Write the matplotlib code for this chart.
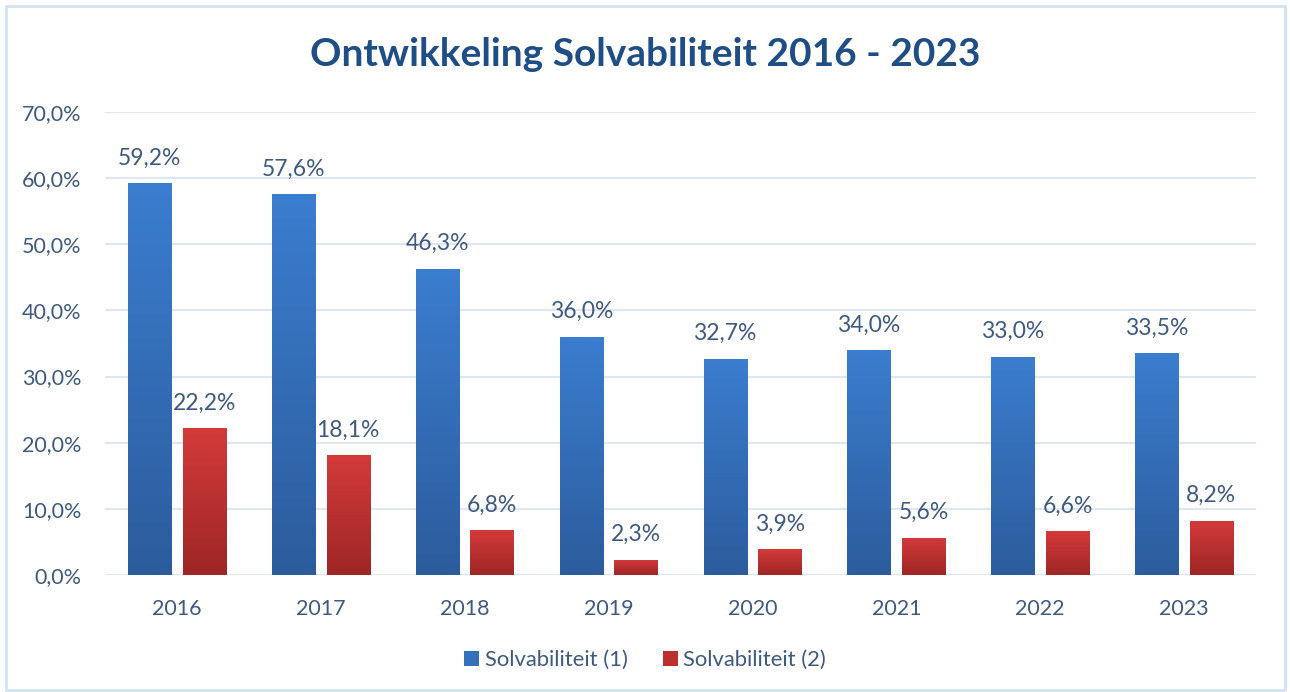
import matplotlib
matplotlib.use("Agg")
import matplotlib.pyplot as plt
import numpy as np
from matplotlib.colors import LinearSegmentedColormap
from matplotlib.patches import Rectangle

years = ["2016", "2017", "2018", "2019", "2020", "2021", "2022", "2023"]
solv1 = [59.2, 57.6, 46.3, 36.0, 32.7, 34.0, 33.0, 33.5]
solv2 = [22.2, 18.1, 6.8, 2.3, 3.9, 5.6, 6.6, 8.2]
yticks = [0, 10, 20, 30, 40, 50, 60, 70]

plt.rcParams['font.family'] = ['Lato', 'DejaVu Sans']
txt = '#3F5A80'

fig = plt.figure(figsize=(12.9, 6.92), dpi=100)
ax = fig.add_axes([105/1290, 1 - 575/692, 1151/1290, 463/692])

x = np.arange(len(years))
w = 0.30
off = 0.19

blue_cmap = LinearSegmentedColormap.from_list('b', ['#2C5C9C', '#3B7DCF'])
red_cmap = LinearSegmentedColormap.from_list('r', ['#9E2626', '#D43A3A'])
grad = np.linspace(0, 1, 256).reshape(-1, 1)

def gbar(xc, h, cmap):
    left = xc - w / 2
    im = ax.imshow(grad, extent=[left, left + w, 0, h], origin='lower',
                   cmap=cmap, aspect='auto', zorder=3)
    r = Rectangle((left, 0), w, h, facecolor='none', edgecolor='none')
    ax.add_patch(r)
    im.set_clip_path(r)

lbl_fs = 16.5
for xi, v in zip(x - off, solv1):
    gbar(xi, v, blue_cmap)
    ax.text(xi, v + 3.8, f"{v:.1f}%".replace('.', ','), ha='center', va='center',
            fontsize=lbl_fs, color=txt)
for xi, v in zip(x + off, solv2):
    gbar(xi, v, red_cmap)
    ax.text(xi, v + 3.8, f"{v:.1f}%".replace('.', ','), ha='center', va='center',
            fontsize=lbl_fs, color=txt)

ax.set_xlim(-0.5, len(years) - 0.5)
ax.set_ylim(0, 70)
ax.set_yticks(yticks)
ax.set_yticklabels([f"{t:.1f}%".replace('.', ',') for t in yticks], fontsize=15.5, color=txt)
ax.set_xticks(x)
ax.set_xticklabels(years, fontsize=15.5, color=txt)
ax.tick_params(axis='x', length=0, pad=17)
ax.tick_params(axis='y', length=0, pad=17)
for s in ax.spines.values():
    s.set_visible(False)
ax.grid(axis='y', color='#DAE5F3', linewidth=1.3, zorder=0)
ax.set_axisbelow(True)

fig.text(0.5, 1 - 55/692, "Ontwikkeling Solvabiliteit 2016 - 2023", ha='center', va='center',
         fontsize=28, fontweight='bold', color='#1F4E86')

h1 = Rectangle((0, 0), 1, 1, facecolor='#3570BD')
h2 = Rectangle((0, 0), 1, 1, facecolor='#B83030')
fig.legend([h1, h2], ["Solvabiliteit (1)", "Solvabiliteit (2)"], loc='center',
           bbox_to_anchor=(0.5, 1 - 660/692), ncol=2, frameon=False, fontsize=15.8,
           labelcolor=txt, handlelength=0.7, handleheight=0.7, handletextpad=0.25,
           columnspacing=1.6)

border = Rectangle((6/1290, 2/692), 1279/1290, 684/692, transform=fig.transFigure,
                   facecolor='none', edgecolor='#D5E2F0', linewidth=2)
fig.patches.append(border)

fig.savefig("out.png", dpi=100)
